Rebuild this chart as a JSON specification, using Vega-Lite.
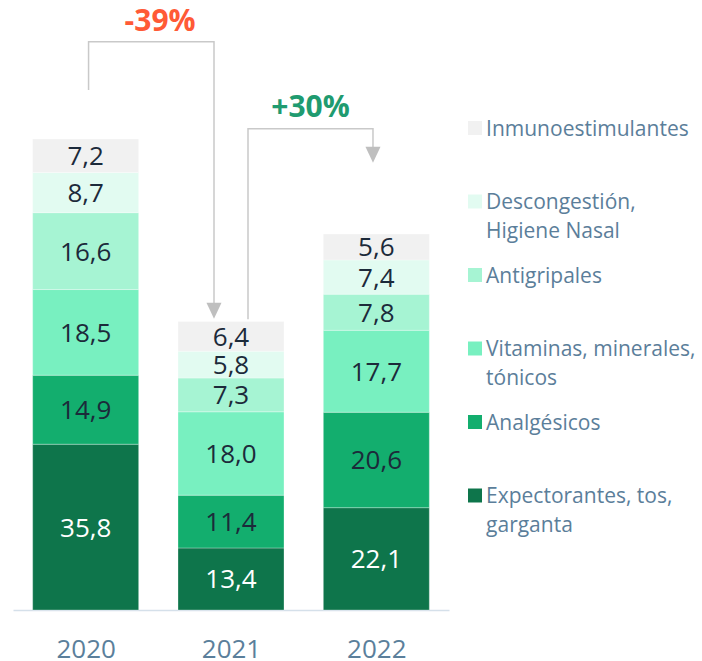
{
  "$schema": "https://vega.github.io/schema/vega-lite/v6.json",
  "width": 436,
  "height": 602,
  "autosize": {"type": "none"},
  "padding": {"left": 13, "top": 8, "right": 253, "bottom": 51},
  "config": {
    "view": {"stroke": null},
    "font": "Open Sans",
    "scale": {"continuousPadding": 0},
    "locale": {"number": {"decimal": ",", "thousands": ".", "grouping": [3], "currency": ["", "€"]}}
  },
  "datasets": {
    "sales": [
      {"year": 2020, "cat": "Expectorantes, tos, garganta", "value": 35.8, "rank": 1},
      {"year": 2020, "cat": "Analgésicos", "value": 14.9, "rank": 2},
      {"year": 2020, "cat": "Vitaminas, minerales, tónicos", "value": 18.5, "rank": 3},
      {"year": 2020, "cat": "Antigripales", "value": 16.6, "rank": 4},
      {"year": 2020, "cat": "Descongestión, Higiene Nasal", "value": 8.7, "rank": 5},
      {"year": 2020, "cat": "Inmunoestimulantes", "value": 7.2, "rank": 6},
      {"year": 2021, "cat": "Expectorantes, tos, garganta", "value": 13.4, "rank": 1},
      {"year": 2021, "cat": "Analgésicos", "value": 11.4, "rank": 2},
      {"year": 2021, "cat": "Vitaminas, minerales, tónicos", "value": 18.0, "rank": 3},
      {"year": 2021, "cat": "Antigripales", "value": 7.3, "rank": 4},
      {"year": 2021, "cat": "Descongestión, Higiene Nasal", "value": 5.8, "rank": 5},
      {"year": 2021, "cat": "Inmunoestimulantes", "value": 6.4, "rank": 6},
      {"year": 2022, "cat": "Expectorantes, tos, garganta", "value": 22.1, "rank": 1},
      {"year": 2022, "cat": "Analgésicos", "value": 20.6, "rank": 2},
      {"year": 2022, "cat": "Vitaminas, minerales, tónicos", "value": 17.7, "rank": 3},
      {"year": 2022, "cat": "Antigripales", "value": 7.8, "rank": 4},
      {"year": 2022, "cat": "Descongestión, Higiene Nasal", "value": 7.4, "rank": 5},
      {"year": 2022, "cat": "Inmunoestimulantes", "value": 5.6, "rank": 6}
    ],
    "legend": [
      {"cat": "Inmunoestimulantes", "label": "Inmunoestimulantes"},
      {"cat": "Descongestión, Higiene Nasal", "label": "Descongestión,\nHigiene Nasal"},
      {"cat": "Antigripales", "label": "Antigripales"},
      {"cat": "Vitaminas, minerales, tónicos", "label": "Vitaminas, minerales,\ntónicos"},
      {"cat": "Analgésicos", "label": "Analgésicos"},
      {"cat": "Expectorantes, tos, garganta", "label": "Expectorantes, tos,\ngarganta"}
    ],
    "brackets": [
      {"path": "a", "step": 1, "x": 2020.02, "y": 112.3},
      {"path": "a", "step": 2, "x": 2020.02, "y": 122.7},
      {"path": "a", "step": 3, "x": 2020.883, "y": 122.7},
      {"path": "a", "step": 4, "x": 2020.883, "y": 66.3},
      {"path": "b", "step": 1, "x": 2021.117, "y": 62.8},
      {"path": "b", "step": 2, "x": 2021.117, "y": 103.9},
      {"path": "b", "step": 3, "x": 2021.977, "y": 103.9},
      {"path": "b", "step": 4, "x": 2021.977, "y": 100.0}
    ],
    "arrows": [
      {"x": 2020.883, "y": 64.6},
      {"x": 2021.977, "y": 98.3}
    ],
    "changes": [
      {"text": "-39%", "dir": "down", "x": 2020.512, "y": 127.0},
      {"text": "+30%", "dir": "up", "x": 2021.547, "y": 108.4}
    ]
  },
  "layer": [
    {
      "layer": [
        {
          "data": {"name": "sales"},
          "mark": {"type": "bar", "width": 106, "orient": "vertical", "stroke": "#ffffff", "strokeWidth": 0.5, "strokeOpacity": 0.6},
          "encoding": {
            "x": {
              "field": "year", "type": "quantitative",
              "scale": {"domain": [2019.5, 2022.5], "nice": false, "zero": false, "padding": 0},
              "axis": {
                "values": [2020, 2021, 2022], "format": "d", "title": null, "grid": false,
                "ticks": false, "tickSize": 0, "labelPadding": 26, "labelFlush": false, "labelOverlap": false,
                "labelFont": "Open Sans", "labelFontSize": 26, "labelColor": "#5b7f9b",
                "domainColor": "#d5e0ea", "domainWidth": 1.5
              }
            },
            "y": {
              "field": "value", "type": "quantitative", "stack": "zero",
              "scale": {"domain": [0, 130], "nice": false, "zero": true},
              "axis": null
            },
            "order": {"field": "rank", "sort": "ascending"},
            "color": {
              "field": "cat", "type": "nominal", "legend": null,
              "scale": {
                "domain": ["Expectorantes, tos, garganta", "Analgésicos", "Vitaminas, minerales, tónicos", "Antigripales", "Descongestión, Higiene Nasal", "Inmunoestimulantes"],
                "range": ["#0e754b", "#13ae6e", "#78f0c0", "#a6f4d3", "#e2fbf1", "#f1f1f1"]
              }
            }
          }
        },
        {
          "data": {"name": "sales"},
          "transform": [
            {"stack": "value", "groupby": ["year"], "sort": [{"field": "rank", "order": "ascending"}], "as": ["v0", "v1"]},
            {"calculate": "(datum.v0 + datum.v1) / 2", "as": "mid"}
          ],
          "mark": {"type": "text", "fontSize": 26, "font": "Open Sans", "align": "center", "baseline": "middle", "dy": 1.5},
          "encoding": {
            "x": {"field": "year", "type": "quantitative", "scale": {"domain": [2019.5, 2022.5], "nice": false, "zero": false, "padding": 0}},
            "y": {"field": "mid", "type": "quantitative", "axis": null},
            "text": {"field": "value", "type": "quantitative", "format": ".1f"},
            "color": {
              "condition": {"test": "datum.cat === 'Expectorantes, tos, garganta'", "value": "#ffffff"},
              "value": "#1c2a3a"
            }
          }
        },
        {
          "data": {"name": "brackets"},
          "mark": {"type": "line", "color": "#c9c9c9", "strokeWidth": 1.5, "interpolate": "linear"},
          "encoding": {
            "x": {"field": "x", "type": "quantitative", "scale": {"domain": [2019.5, 2022.5], "nice": false, "zero": false, "padding": 0}},
            "y": {"field": "y", "type": "quantitative", "axis": null},
            "detail": {"field": "path"},
            "order": {"field": "step"}
          }
        },
        {
          "data": {"name": "arrows"},
          "mark": {"type": "point", "shape": "M-0.94,-1L0.94,-1L0,1Z", "size": 256, "filled": true, "color": "#bfbfbf", "opacity": 1},
          "encoding": {
            "x": {"field": "x", "type": "quantitative", "scale": {"domain": [2019.5, 2022.5], "nice": false, "zero": false, "padding": 0}},
            "y": {"field": "y", "type": "quantitative", "axis": null}
          }
        },
        {
          "data": {"name": "changes"},
          "mark": {"type": "text", "fontSize": 30, "fontWeight": "bold", "font": "Open Sans", "align": "center", "baseline": "middle"},
          "encoding": {
            "x": {"field": "x", "type": "quantitative", "scale": {"domain": [2019.5, 2022.5], "nice": false, "zero": false, "padding": 0}},
            "y": {"field": "y", "type": "quantitative", "axis": null},
            "text": {"field": "text"},
            "color": {
              "condition": {"test": "datum.dir === 'down'", "value": "#ff5a36"},
              "value": "#1f9b70"
            }
          }
        }
      ]
    },
    {
      "layer": [
        {
          "data": {"name": "legend"},
          "mark": {"type": "square", "size": 196, "opacity": 1},
          "encoding": {
            "x": {"datum": 2022.679, "type": "quantitative", "scale": {"domain": [2019.5, 2022.5], "nice": false, "zero": false, "padding": 0}},
            "y": {
              "field": "cat", "type": "ordinal", "axis": null,
              "scale": {"type": "point", "padding": 0, "range": [120, 487.5],
                "domain": ["Inmunoestimulantes", "Descongestión, Higiene Nasal", "Antigripales", "Vitaminas, minerales, tónicos", "Analgésicos", "Expectorantes, tos, garganta"]}
            },
            "color": {"field": "cat", "type": "nominal", "legend": null}
          }
        },
        {
          "data": {"name": "legend"},
          "mark": {"type": "text", "fontSize": 21, "font": "Open Sans", "align": "left", "baseline": "alphabetic", "dy": 7.5, "lineBreak": "\n", "lineHeight": 28.5, "color": "#5b7e9a"},
          "encoding": {
            "x": {"datum": 2022.755, "type": "quantitative", "scale": {"domain": [2019.5, 2022.5], "nice": false, "zero": false, "padding": 0}},
            "y": {"field": "cat", "type": "ordinal", "axis": null},
            "text": {"field": "label"}
          }
        }
      ]
    }
  ],
  "resolve": {"scale": {"y": "independent"}}
}
